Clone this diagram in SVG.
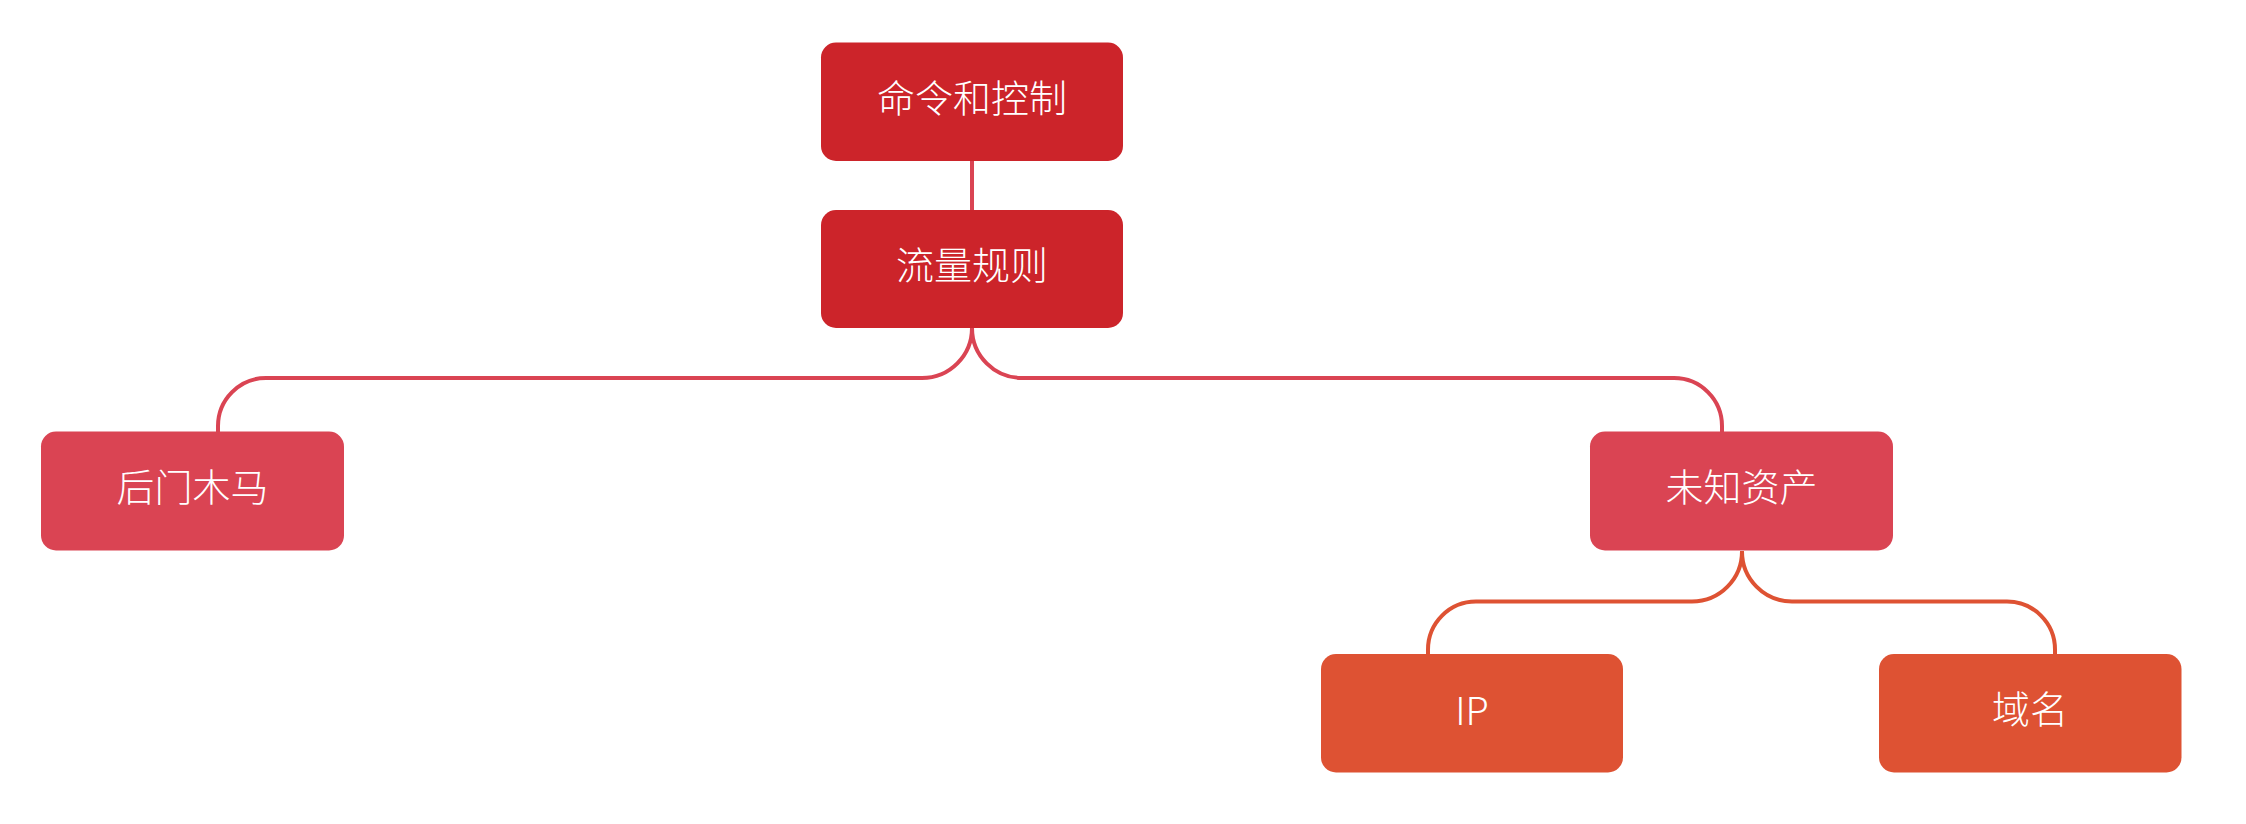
<svg xmlns="http://www.w3.org/2000/svg" width="2246" height="824" viewBox="0 0 2246 824">
<style>
.lbl{font-family:"Noto Sans CJK SC","Noto Sans",sans-serif;font-size:38px;font-weight:300;fill:#ffffff;text-anchor:middle}
.c1{fill:none;stroke:#DA4453;stroke-width:4}
.c2{fill:none;stroke:#DE5233;stroke-width:4}
.r0{fill:#CC242A}
.r1{fill:#DA4453}
.r2{fill:#DE5233}
</style>
<rect width="2246" height="824" fill="#ffffff"/>
<g id="connectors">
<path class="c1" d="M972 160 V210"/>
<path class="c1" d="M972 328 A50 50 0 0 1 922 378 H266 A48 48 0 0 0 218 426 V432"/>
<path class="c1" d="M972 328 A50 50 0 0 0 1022 378 H1674 A48 48 0 0 1 1722 426 V432"/>
<path class="c2" d="M1742 551 A50 50 0 0 1 1692 601.5 H1476 A48 48 0 0 0 1428 649.5 V655"/>
<path class="c2" d="M1742 551 A50 50 0 0 0 1792 601.5 H2007 A48 48 0 0 1 2055 649.5 V655"/>
</g>
<g id="n1"><rect class="r0" x="821" y="42.5" width="302" height="118.5" rx="15"/><text class="lbl" x="972" y="111.5">命令和控制</text></g>
<g id="n2"><rect class="r0" x="821" y="210" width="302" height="118" rx="15"/><text class="lbl" x="972" y="279">流量规则</text></g>
<g id="n3"><rect class="r1" x="41" y="431.5" width="303" height="119" rx="15"/><text class="lbl" x="192.5" y="501">后门木马</text></g>
<g id="n4"><rect class="r1" x="1590" y="431.5" width="303" height="119" rx="15"/><text class="lbl" x="1741.5" y="501">未知资产</text></g>
<g id="n5"><rect class="r2" x="1321" y="654" width="302" height="118.5" rx="15"/><text class="lbl" x="1472" y="725">IP</text></g>
<g id="n6"><rect class="r2" x="1879" y="654" width="302.5" height="118.5" rx="15"/><text class="lbl" x="2030" y="723">域名</text></g>
</svg>
